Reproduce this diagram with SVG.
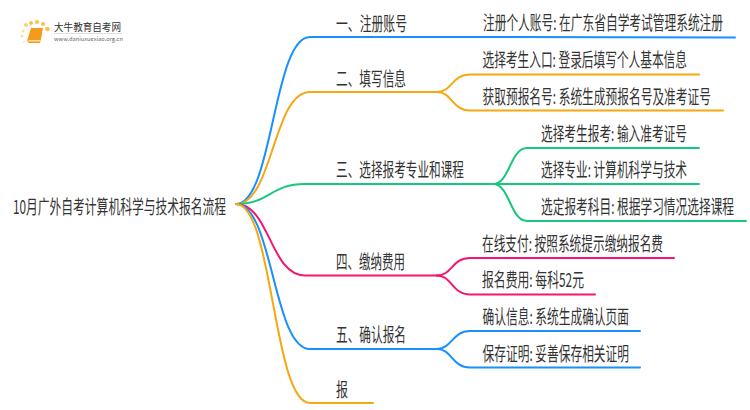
<svg xmlns="http://www.w3.org/2000/svg" width="750" height="410" viewBox="0 0 750 410">
<style>
text{font-family:"Noto Sans CJK SC","Noto Sans",sans-serif;font-size:19px;fill:#333}
.c{fill:none;stroke-width:2;stroke-linecap:round}
.b{stroke:#1890ff}.o{stroke:#f5a80f}.g{stroke:#17c77f}.p{stroke:#f5156f}
</style>
<defs><filter id="s" x="-10%" y="-10%" width="120%" height="120%"><feGaussianBlur stdDeviation="0.5"/></filter></defs>
<rect width="750" height="410" fill="#fff"/>
<g id="logo">
<g filter="url(#s)">
<circle cx="26" cy="25" r="2" fill="#fbd27a"/><circle cx="31" cy="23" r="2" fill="#fcc04a"/><circle cx="37" cy="22" r="2" fill="#fcc04a"/><circle cx="43" cy="24" r="2" fill="#fcc04a"/><circle cx="47.500" cy="29" r="2.300" fill="#fcc04a"/><circle cx="23" cy="31" r="1.500" fill="#fde0a0"/><circle cx="22" cy="36" r="1.300" fill="#fde0a0"/><circle cx="24" cy="42" r="1" fill="#fde7bb"/>
<path d="M31 28H43L41 39L40 43H29L27 41Z" fill="#f59a1b"/><path d="M28 40H40.500L40 41.500H28.500Z" fill="#fde0a0"/></g>
<text x="54" y="31" textLength="67" lengthAdjust="spacingAndGlyphs" style="font-size:10.500px">大牛教育自考网</text>
<rect x="54" y="33" width="68" height="0.600" fill="#ccc"/>
<text x="54" y="40.500" textLength="69" lengthAdjust="spacingAndGlyphs" style="font-size:5.500px;fill:#666">www.daniuxuexiao.org.cn</text>
</g>
<g id="connectors">
<path class="c b" d="M236 204C273 204 273 37 310 37H470L735 37.500"/>
<path class="c o" d="M236 204C273 204 273 92 310 92H437"/>
<path class="c o" d="M437 92C452 92 452 74.500 470 74.500H699"/>
<path class="c o" d="M437 92C452 92 452 110.500 470 110.500H723"/>
<path class="c g" d="M236 204C270 204 270 184 305 184H493"/>
<path class="c g" d="M493 184C510 184 510 148 527 148H699"/>
<path class="c g" d="M493 184H699"/>
<path class="c g" d="M493 184C510 184 510 221 527 221H746"/>
<path class="c p" d="M236 204C270 204 270 275.500 305 275.500H437"/>
<path class="c p" d="M437 275.500C452 275.500 452 258 470 258H674"/>
<path class="c p" d="M437 275.500C452 275.500 452 294.500 470 294.500H595"/>
<path class="c b" d="M236 204C273 204 273 349 310 349H437"/>
<path class="c b" d="M437 349C452 349 452 331 470 331H640"/>
<path class="c b" d="M437 349C452 349 452 367.500 470 367.500H640"/>
<path class="c o" d="M236 204C273 204 273 403 310 403H373"/>
</g>
<g id="root"><text transform="translate(13 214) scale(.6 1)" textLength="355" lengthAdjust="spacingAndGlyphs">10月广外自考计算机科学与技术报名流程</text></g>
<g id="n1"><text transform="translate(336 31) scale(.6 1)" textLength="118.300" lengthAdjust="spacingAndGlyphs">一、注册账号</text></g>
<g id="n2"><text transform="translate(336 86) scale(.6 1)" textLength="116.700" lengthAdjust="spacingAndGlyphs">二、填写信息</text></g>
<g id="n3"><text transform="translate(336 177) scale(.6 1)" textLength="213.300" lengthAdjust="spacingAndGlyphs">三、选择报考专业和课程</text></g>
<g id="n4"><text transform="translate(336 269) scale(.6 1)" textLength="115" lengthAdjust="spacingAndGlyphs">四、缴纳费用</text></g>
<g id="n5"><text transform="translate(336 342) scale(.6 1)" textLength="116.700" lengthAdjust="spacingAndGlyphs">五、确认报名</text></g>
<g id="n6"><text transform="translate(336 397) scale(.6 1)" textLength="20" lengthAdjust="spacingAndGlyphs">报</text></g>
<g id="l1"><text transform="translate(483 30) scale(.6 1)" textLength="400" lengthAdjust="spacingAndGlyphs">注册个人账号: 在广东省自学考试管理系统注册</text></g>
<g id="l2"><text transform="translate(482.500 67) scale(.6 1)" textLength="340.800" lengthAdjust="spacingAndGlyphs">选择考生入口: 登录后填写个人基本信息</text></g>
<g id="l3"><text transform="translate(482.500 104) scale(.6 1)" textLength="380.800" lengthAdjust="spacingAndGlyphs">获取预报名号: 系统生成预报名号及准考证号</text></g>
<g id="l4"><text transform="translate(541 141) scale(.6 1)" textLength="243.300" lengthAdjust="spacingAndGlyphs">选择考生报考: 输入准考证号</text></g>
<g id="l5"><text transform="translate(541 177) scale(.6 1)" textLength="243.300" lengthAdjust="spacingAndGlyphs">选择专业: 计算机科学与技术</text></g>
<g id="l6"><text transform="translate(541 214) scale(.6 1)" textLength="321.700" lengthAdjust="spacingAndGlyphs">选定报考科目: 根据学习情况选择课程</text></g>
<g id="l7"><text transform="translate(482 251) scale(.6 1)" textLength="301.700" lengthAdjust="spacingAndGlyphs">在线支付: 按照系统提示缴纳报名费</text></g>
<g id="l8"><text transform="translate(482 287) scale(.6 1)" textLength="170" lengthAdjust="spacingAndGlyphs">报名费用: 每科52元</text></g>
<g id="l9"><text transform="translate(482.500 324) scale(.6 1)" textLength="244.200" lengthAdjust="spacingAndGlyphs">确认信息: 系统生成确认页面</text></g>
<g id="l10"><text transform="translate(482.500 361) scale(.6 1)" textLength="244.200" lengthAdjust="spacingAndGlyphs">保存证明: 妥善保存相关证明</text></g>
</svg>
